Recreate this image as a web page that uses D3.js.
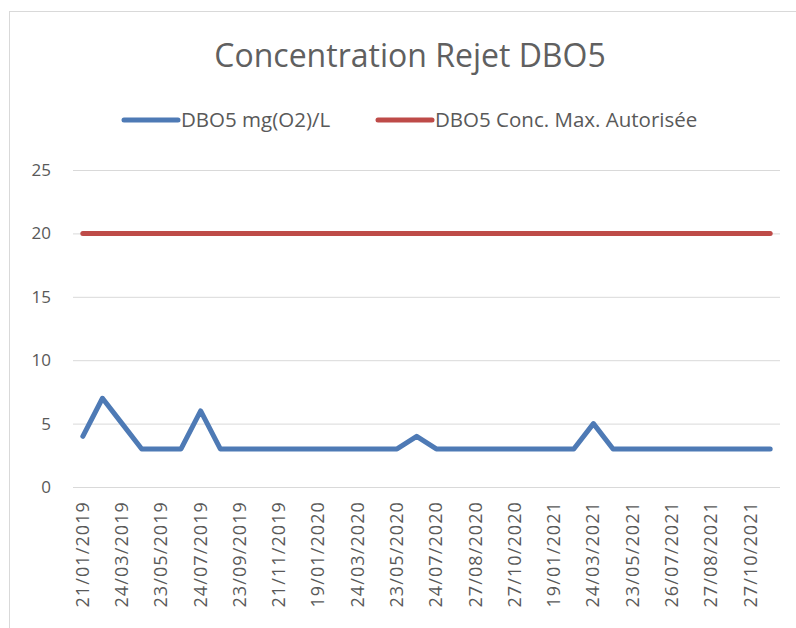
<!DOCTYPE html>
<html>
<head>
<meta charset="utf-8">
<script src="https://cdn.jsdelivr.net/npm/d3@7"></script>
<style>
  body { margin: 0; background: #fff; }
  svg text { font-family: "Open Sans", "Noto Sans", sans-serif; fill: #595959; }
</style>
</head>
<body>
<svg id="chart"></svg>
<script>
// sampling dates (every other one is labelled on the axis)
const dates = [
  "21/01/2019", "21/02/2019", "24/03/2019", "23/04/2019", "23/05/2019", "24/06/2019",
  "24/07/2019", "22/08/2019", "23/09/2019", "23/10/2019", "21/11/2019", "19/12/2019",
  "19/01/2020", "20/02/2020", "24/03/2020", "23/04/2020", "23/05/2020", "23/06/2020",
  "24/07/2020", "05/08/2020", "27/08/2020", "28/09/2020", "27/10/2020", "26/11/2020",
  "19/01/2021", "22/02/2021", "24/03/2021", "22/04/2021", "23/05/2021", "24/06/2021",
  "26/07/2021", "05/08/2021", "27/08/2021", "27/09/2021", "27/10/2021", "26/11/2021"
];
// measured DBO5 mg(O2)/L
const dbo5 = [4, 7, 5, 3, 3, 3, 6, 3, 3, 3, 3, 3, 3, 3, 3, 3, 3, 4,
              3, 3, 3, 3, 3, 3, 3, 3, 5, 3, 3, 3, 3, 3, 3, 3, 3, 3];
// max authorised concentration
const maxAutorisee = dates.map(() => 20);
const yTicks = [0, 5, 10, 15, 20, 25];

const seriesNames = ["DBO5 mg(O2)/L", "DBO5 Conc. Max. Autorisée"];
const colors = ["#4e7ab5", "#be4b48"];

const width = 796, height = 628;
const plot = {left: 73, right: 780, top: 170, bottom: 487};

const svg = d3.select('#chart').attr('width', width).attr('height', height);

// chart frame (cut by the right and bottom edge of the picture)
svg.append('rect')
   .attr('x', 9.5).attr('y', 11.5)
   .attr('width', 800).attr('height', 640)
   .attr('fill', 'none').attr('stroke', '#d9d9d9');

let x = d3.scaleBand().domain(d3.range(dates.length)).range([plot.left, plot.right]);
let y = d3.scaleLinear().domain([0, 25]).range([plot.bottom, plot.top]);
let cx = i => x(i) + x.bandwidth() / 2;

// gridlines
svg.append('g').selectAll('line')
   .data(yTicks).enter().append('line')
   .attr('x1', plot.left).attr('x2', plot.right)
   .attr('y1', d => y(d) + 0.5).attr('y2', d => y(d) + 0.5)
   .attr('stroke', '#d9d9d9').attr('stroke-width', 1);

// y labels
svg.append('g').selectAll('text')
   .data(yTicks).enter().append('text')
   .attr('x', 51).attr('y', d => y(d))
   .attr('dy', '0.35em')
   .attr('text-anchor', 'end')
   .style('font-size', '17px')
   .text(d => d);

// x labels, one in two
svg.append('g').selectAll('text')
   .data(dates.map((d, i) => ({d, i})).filter(o => o.i % 2 === 0))
   .enter().append('text')
   .attr('transform', o => `translate(${cx(o.i) + 6},501) rotate(-90)`)
   .attr('text-anchor', 'end')
   .style('font-size', '18px')
   .style('letter-spacing', '1.1px')
   .text(o => o.d);

// lines
let line = d3.line().x((d, i) => cx(i)).y(d => y(d));
[dbo5, maxAutorisee].forEach((vals, k) => {
    svg.append('path')
       .datum(vals)
       .attr('d', line)
       .attr('fill', 'none')
       .attr('stroke', colors[k])
       .attr('stroke-width', 5)
       .attr('stroke-linejoin', 'round')
       .attr('stroke-linecap', 'round');
});

// title
svg.append('text')
   .attr('x', 410).attr('y', 67)
   .attr('text-anchor', 'middle')
   .style('font-size', '32px')
   .style('fill', '#606060')
   .text('Concentration Rejet DBO5');

// legend
const legendX = [124, 378];
seriesNames.forEach((name, k) => {
    let g = svg.append('g').attr('transform', `translate(${legendX[k]},120)`);
    g.append('line')
     .attr('x1', 0).attr('x2', 54)
     .attr('stroke', colors[k]).attr('stroke-width', 5)
     .attr('stroke-linecap', 'round');
    g.append('text')
     .attr('x', 57).attr('dy', '0.35em')
     .style('font-size', '20.5px')
     .text(name);
});
</script>
</body>
</html>
